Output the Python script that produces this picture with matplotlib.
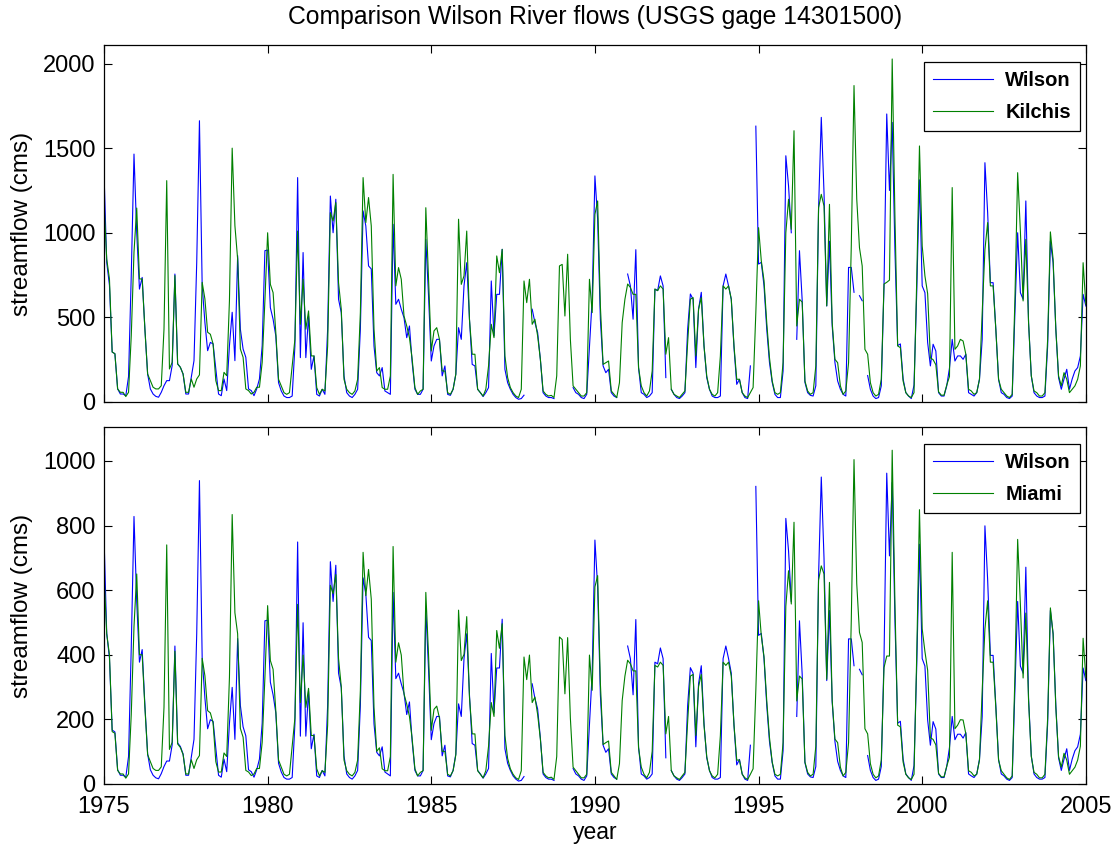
import numpy as np
import matplotlib
matplotlib.use("Agg")
import matplotlib.pyplot as plt

nan = float("nan")

# monthly mean flow (cms), Jan 1975 .. Jan 2005, one row per year
wilson_top = [
    1357, 825, 690, 295, 285, 77, 47, 47, 37, 150, 750, 1465,   # 1975
    1000, 667, 736, 430, 165, 77, 47, 33, 28, 57, 96, 126,
    126, 215, 756, 225, 205, 165, 47, 47, 146, 244, 825, 1662,
    688, 470, 303, 352, 343, 195, 47, 37, 136, 67, 333, 530,
    244, 865, 430, 313, 264, 77, 67, 37, 77, 136, 333, 894,
    898, 557, 489, 390, 114, 65, 35, 26, 26, 35, 330, 1326,    # 1980
    262, 883, 262, 508, 193, 272, 45, 35, 75, 45, 430, 1217,
    1000, 1198, 607, 528, 154, 55, 35, 26, 45, 75, 430, 1129,
    1040, 804, 786, 330, 173, 154, 203, 65, 55, 45, 1050, 577,
    607, 548, 498, 380, 449, 232, 75, 45, 45, 75, 961, 626,
    242, 331, 370, 370, 154, 213, 45, 39, 75, 164, 439, 370,   # 1985
    686, 823, 489, 222, 213, 75, 55, 32, 55, 85, 715, 390,
    636, 636, 902, 193, 114, 75, 45, 26, 16, 20, 40, nan,
    nan, 548, 469, 410, 252, 55, 35, 26, 26, 20, nan, nan,
    nan, 459, nan, nan, 85, 55, 45, 26, 20, 45, 330, 607,
    1336, 1080, 489, 213, 173, 193, 55, 35, 26, nan, 784, nan,  # 1990
    756, 686, 489, 900, 203, 55, 45, 26, 35, 55, 667, 658,
    745, 686, 144, nan, 75, 45, 26, 20, 35, 55, 430, 638,
    607, 203, 548, 648, 331, 144, 75, 35, 26, 26, 35, 686,
    756, 686, 607, 321, 104, 134, 55, 26, 20, 213, nan, 1630,
    815, 825, 687, 431, 234, 116, 45, 26, 26, 183, 1455, 1276,  # 1995
    1000, nan, 370, 894, 600, 116, 55, 39, 35, 96, 1138, 1682,
    1237, 567, 950, 449, 234, 124, 75, 45, 35, 795, 795, 648,
    nan, 628, 598, nan, 156, 75, 35, 20, 26, 95, 687, 1702,
    1250, 1652, 900, 333, 343, 136, 55, 35, 20, 100, 650, 1313,
    686, 646, 351, 213, 341, 301, 55, 35, 35, 95, 200, 370,    # 2000
    242, 272, 272, 252, 282, 55, 45, 35, 55, 134, 370, 1414,
    1119, 705, 705, 429, 134, 55, 45, 26, 20, 35, 528, 1000,
    646, 607, 1188, 469, 154, 55, 35, 26, 26, 35, 331, 950,
    823, 429, 144, 75, 136, 193, 75, 136, 183, 203, 272, 636,
    567,
]

kilchis = [
    1180, 845, 727, 295, 285, 77, 57, 57, 32, 57, 392, 885,    # 1975
    1146, 727, 727, 430, 165, 126, 87, 77, 77, 96, 430, 1308,
    195, 234, 747, 225, 205, 165, 57, 57, 136, 87, 136, 160,
    707, 609, 412, 400, 343, 126, 67, 67, 175, 155, 600, 1500,
    1042, 845, 313, 264, 77, 67, 47, 57, 87, 87, 234, 600,
    1000, 695, 646, 410, 134, 95, 55, 45, 55, 213, 370, 1010,  # 1980
    459, 725, 430, 538, 272, 272, 85, 45, 75, 65, 330, 1119,
    1070, 1178, 705, 548, 134, 75, 55, 45, 65, 134, 528, 1326,
    1060, 1208, 1040, 430, 183, 203, 85, 75, 75, 154, 1345, 686,
    794, 725, 508, 449, 380, 252, 85, 45, 65, 75, 1148, 725,
    301, 420, 439, 370, 183, 183, 55, 45, 75, 164, 1080, 695,  # 1985
    745, 1010, 489, 282, 282, 75, 55, 35, 75, 213, 459, 380,
    863, 764, 902, 272, 144, 85, 55, 35, 26, 75, 715, 587,
    725, 459, 489, 390, 252, 65, 45, 35, 39, 26, 154, 804,
    813, 508, 873, 370, 95, 75, 55, 35, 35, 55, 725, 528,
    1109, 1188, 568, 222, 232, 242, 65, 45, 26, 114, 469, 607,  # 1990
    697, 677, 636, 636, 203, 95, 55, 35, 65, 183, 667, 658,
    686, 667, 282, 380, 75, 45, 35, 26, 45, 65, 351, 607,
    617, 272, 548, 617, 331, 154, 75, 45, 35, 55, 272, 686,
    667, 686, 607, 331, 134, 134, 55, 35, 26, 55, 85, 528,
    1030, 835, 717, 469, 262, 124, 55, 45, 55, 234, 1000, 1198,  # 1995
    1020, 1603, 449, 607, 590, 124, 65, 45, 55, 213, 1148, 1227,
    1158, 568, 1168, 469, 252, 232, 95, 45, 65, 232, 922, 1870,
    1200, 912, 804, 311, 282, 114, 55, 35, 45, 134, 697, 707,
    720, 2027, 1100, 331, 321, 124, 55, 35, 26, 55, 725, 1513,
    922, 745, 640, 260, 250, 220, 60, 40, 40, 100, 150, 1267,  # 2000
    311, 331, 370, 360, 282, 75, 65, 45, 55, 134, 528, 900,
    1060, 686, 686, 429, 134, 75, 55, 35, 26, 45, 607, 1355,
    1010, 597, 961, 469, 154, 65, 55, 35, 35, 55, 370, 1005,
    843, 429, 154, 95, 173, 134, 55, 75, 95, 134, 213, 823,
    577,
]

wilson_bot = [
    767, 466, 390, 167, 161, 44, 27, 27, 21, 85, 424, 828,     # 1975
    565, 377, 416, 243, 93, 44, 27, 19, 16, 32, 54, 71,
    71, 121, 427, 127, 116, 93, 27, 27, 82, 138, 466, 939,
    389, 266, 171, 199, 194, 110, 27, 21, 77, 38, 188, 299,
    138, 450, 243, 177, 149, 44, 38, 21, 44, 77, 188, 505,
    507, 315, 276, 220, 64, 37, 20, 15, 15, 20, 186, 749,      # 1980
    148, 499, 148, 287, 109, 154, 25, 20, 42, 25, 243, 688,
    565, 677, 343, 298, 87, 31, 20, 15, 25, 42, 243, 638,
    588, 454, 444, 186, 98, 87, 115, 37, 31, 25, 593, 326,
    343, 310, 281, 215, 254, 131, 42, 25, 25, 42, 543, 354,
    137, 187, 209, 209, 87, 120, 25, 22, 42, 93, 248, 209,     # 1985
    388, 465, 276, 125, 120, 42, 31, 18, 31, 48, 404, 220,
    359, 359, 510, 109, 64, 42, 25, 15, 9, 11, 23, nan,
    nan, 310, 265, 232, 142, 31, 20, 15, 15, 11, nan, nan,
    nan, 259, nan, nan, 48, 31, 25, 15, 11, 25, 186, 343,
    755, 610, 276, 120, 98, 109, 31, 20, 15, nan, 443, nan,    # 1990
    427, 388, 276, 509, 115, 31, 25, 15, 20, 31, 377, 372,
    421, 388, 81, nan, 42, 25, 15, 11, 20, 31, 243, 360,
    343, 115, 310, 366, 187, 81, 42, 20, 15, 15, 20, 388,
    427, 388, 343, 181, 59, 76, 31, 15, 11, 120, nan, 921,
    460, 466, 388, 244, 132, 66, 25, 15, 15, 103, 822, 721,    # 1995
    565, nan, 209, 505, 339, 66, 31, 22, 20, 54, 643, 950,
    699, 320, 537, 254, 132, 70, 42, 25, 20, 449, 449, 366,
    nan, 355, 338, nan, 88, 42, 20, 11, 15, 54, 388, 962,
    706, 933, 509, 188, 194, 77, 31, 20, 11, 57, 367, 742,
    388, 365, 198, 120, 193, 170, 31, 20, 20, 54, 113, 209,    # 2000
    137, 154, 154, 142, 159, 31, 25, 20, 31, 76, 209, 799,
    632, 398, 398, 242, 76, 31, 25, 15, 11, 20, 298, 565,
    365, 343, 671, 265, 87, 31, 20, 15, 15, 20, 187, 537,
    465, 242, 81, 42, 77, 109, 42, 77, 103, 115, 154, 359,
    320,
]

miami = [
    649, 465, 400, 162, 157, 42, 31, 31, 18, 31, 216, 487,     # 1975
    650, 400, 400, 237, 91, 69, 48, 42, 42, 53, 237, 740,
    107, 129, 411, 124, 113, 91, 31, 31, 75, 48, 75, 88,
    389, 335, 227, 220, 189, 69, 37, 37, 96, 85, 330, 834,
    530, 465, 172, 145, 42, 37, 26, 31, 48, 48, 129, 330,
    552, 382, 355, 226, 74, 52, 30, 25, 30, 117, 204, 556,     # 1980
    252, 399, 237, 296, 150, 150, 47, 25, 41, 36, 182, 615,
    589, 648, 388, 301, 74, 41, 30, 25, 36, 74, 290, 717,
    583, 664, 572, 237, 101, 112, 47, 41, 41, 85, 735, 377,
    437, 399, 279, 247, 209, 139, 47, 25, 36, 41, 593, 399,
    166, 231, 241, 204, 101, 101, 30, 25, 41, 90, 538, 382,    # 1985
    401, 518, 269, 155, 155, 41, 30, 19, 41, 117, 252, 209,
    475, 420, 496, 150, 79, 47, 30, 19, 14, 41, 393, 323,
    399, 252, 269, 215, 139, 36, 25, 19, 21, 14, 85, 455,
    447, 279, 453, 204, 52, 41, 30, 19, 19, 30, 399, 290,
    610, 645, 312, 122, 128, 133, 36, 25, 14, 63, 258, 334,    # 1990
    383, 372, 350, 350, 112, 52, 30, 19, 36, 101, 367, 362,
    377, 367, 155, 209, 41, 25, 19, 14, 25, 36, 193, 334,
    339, 150, 301, 339, 182, 85, 41, 25, 19, 30, 150, 377,
    367, 377, 334, 182, 74, 74, 30, 19, 14, 30, 47, 290,
    567, 459, 394, 258, 144, 68, 30, 25, 30, 129, 550, 660,    # 1995
    557, 810, 257, 334, 325, 68, 36, 25, 30, 117, 631, 675,
    650, 324, 624, 258, 139, 128, 52, 25, 36, 128, 507, 1004,
    620, 469, 438, 171, 155, 63, 30, 19, 25, 74, 360, 396,
    396, 1033, 561, 182, 177, 68, 30, 19, 14, 30, 400, 849,
    480, 410, 352, 143, 138, 121, 33, 22, 22, 55, 83, 717,     # 2000
    171, 182, 199, 198, 155, 41, 36, 25, 30, 74, 290, 480,
    567, 377, 377, 236, 74, 41, 30, 19, 14, 25, 334, 757,
    556, 328, 529, 258, 85, 36, 30, 19, 19, 30, 204, 545,
    464, 236, 85, 52, 95, 74, 30, 41, 52, 74, 117, 451,
    330,
]

year_ticks = [1975, 1980, 1985, 1990, 1995, 2000, 2005]
top_yticks = [0, 500, 1000, 1500, 2000]
bot_yticks = [0, 200, 400, 600, 800, 1000]

# decimal year of each monthly value
t = 1975 + np.arange(len(wilson_top)) / 12.0

plt.rcParams["font.family"] = ["Liberation Sans", "DejaVu Sans"]

fig = plt.figure(figsize=(11.17, 8.48), dpi=100)
ax1 = fig.add_axes([0.0931, 0.526, 0.879, 0.421])
ax2 = fig.add_axes([0.0931, 0.0755, 0.879, 0.421])


def style_axes(ax, ylim, yticks):
    ax.set_xlim(1975, 2005)
    ax.set_ylim(*ylim)
    ax.set_xticks(year_ticks)
    ax.set_yticks(yticks)
    ax.tick_params(direction="in", top=True, right=True, length=6,
                   width=0.8, labelsize=17, colors="black")
    ax.tick_params(axis="x", pad=9)
    ax.tick_params(axis="y", pad=6)
    for s in ax.spines.values():
        s.set_linewidth(0.9)
    ax.set_ylabel("streamflow (cms)", fontsize=17.5)
    ax.yaxis.set_label_coords(-0.072, 0.5)


ax1.plot(t, wilson_top, color="#0000ff", lw=0.8, label="Wilson")
ax1.plot(t, kilchis, color="#008000", lw=0.8, label="Kilchis")
style_axes(ax1, (0, 2110), top_yticks)
ax1.set_xticklabels([])
ax1.set_title("Comparison Wilson River flows (USGS gage 14301500)",
              fontsize=17.8, pad=15)

ax2.plot(t, wilson_bot, color="#0000ff", lw=0.8, label="Wilson")
ax2.plot(t, miami, color="#008000", lw=0.8, label="Miami")
style_axes(ax2, (0, 1105), bot_yticks)
ax2.set_xlabel("year", fontsize=16.5, labelpad=2)

for ax in (ax1, ax2):
    leg = ax.legend(loc="upper right", bbox_to_anchor=(0.994, 0.952),
                    borderaxespad=0, fancybox=False, framealpha=1,
                    edgecolor="black", handlelength=3.0, handletextpad=0.6,
                    labelspacing=0.62, borderpad=0.45,
                    prop={"weight": "bold", "size": 14.5})
    leg.get_frame().set_linewidth(0.9)

fig.savefig("out.png", dpi=100)
